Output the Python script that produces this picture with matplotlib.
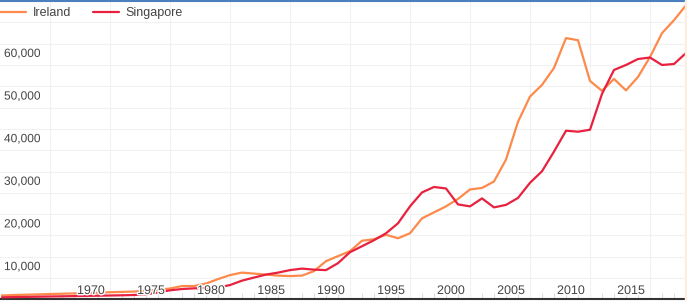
import matplotlib
matplotlib.use("Agg")
import matplotlib.pyplot as plt
import matplotlib.patheffects as pe
from matplotlib.patches import Rectangle
import numpy as np

plt.rcParams['font.family'] = ['Liberation Sans', 'DejaVu Sans']

# GDP per capita, 1961-2018
years = list(range(1961, 2019))
ireland = [5910, 6030, 6100, 6170, 6260, 6330, 6400, 6490, 6590, 6680,
           6750, 6840, 7010, 7240, 7550, 8130, 8130, 8710, 9760, 10700,
           11280, 11050, 10820, 10580, 10470, 10580, 11630, 13970, 15140, 16310,
           18760, 19110, 20160, 19340, 20510, 24010, 25420, 26820, 28570, 30790,
           31140, 32660, 37800, 46670, 52580, 55320, 59290, 66300, 65800, 56250,
           53920, 56720, 54030, 57190, 61860, 67460, 70500, 74000]
singapore = [5490, 5540, 5580, 5630, 5680, 5720, 5770, 5820, 5860, 5910,
             5960, 6030, 6210, 6610, 7130, 7430, 7590, 7660, 7780, 8360,
             9400, 10120, 10820, 11280, 11870, 12220, 11980, 11870, 13500, 16070,
             17470, 18880, 20510, 22850, 26820, 30090, 31370, 31020, 27280, 26820,
             28690, 26580, 27170, 28800, 32350, 35060, 39670, 44570, 44340, 44800,
             53210, 58820, 59990, 61390, 61740, 59990, 60220, 62790]

series_names = ["Ireland", "Singapore"]
series_colors = ["#fd8a4b", "#e8213f"]

x_labels = [1970, 1975, 1980, 1985, 1990, 1995, 2000, 2005, 2010, 2015]
y_labels = [10000, 20000, 30000, 40000, 50000, 60000]

W, H = 687, 301
fig = plt.figure(figsize=(W / 100, H / 100), dpi=100)
ax = fig.add_axes([0, 2 / H, 685 / W, 298 / H])

ax.set_xlim(1970 - 110 / 12, 1970 + 575 / 12)
ax.set_ylim(5090, 74940)

for vals, name, col in zip([ireland, singapore], series_names, series_colors):
    ax.plot(years, vals, color=col, lw=1.6, label=name, zorder=3,
            solid_capstyle='round', solid_joinstyle='round')

# grid
ax.set_xticks(np.arange(1965, 2020, 5))
ax.set_xticks(np.arange(1961, 2018, 1), minor=True)
ax.set_yticks(np.arange(10000, 75001, 5000))
ax.grid(True, which='major', color='#f1f1f1', lw=0.8)
ax.set_axisbelow(True)
ax.tick_params(axis='both', which='major', length=0, labelleft=False, labelbottom=False)
ax.tick_params(axis='x', which='minor', direction='in', length=4, color='#dddddd', width=0.8)
ax.tick_params(axis='y', which='minor', length=0)

for s in ['left', 'right']:
    ax.spines[s].set_visible(False)
ax.spines['bottom'].set_color('#333333')
ax.spines['bottom'].set_linewidth(1.5)
ax.spines['top'].set_color('#4a7fc0')
ax.spines['top'].set_linewidth(1.5)

halo = [pe.withStroke(linewidth=2, foreground='white')]
for yr in x_labels:
    ax.annotate(str(yr), xy=(yr, 0), xycoords=('data', 'axes fraction'),
                xytext=(-5, 8), textcoords='offset pixels', ha='right', va='center',
                fontsize=9, color='#444444', zorder=5, path_effects=halo)
for v in y_labels:
    ax.annotate(f"{v:,}", xy=(0, v), xycoords=('axes fraction', 'data'),
                xytext=(4, 11), textcoords='offset pixels', ha='left', va='center',
                fontsize=8.6, color='#444444', zorder=5, path_effects=halo)

ax.legend(loc='upper left', bbox_to_anchor=(0, 1 - 6 / 298), ncol=2, frameon=False,
          fontsize=9, handlelength=2.1, handletextpad=0.5, columnspacing=1.75,
          borderaxespad=0, borderpad=0, labelcolor='#444444')

fig.patches.append(Rectangle((685 / W, 0), 2 / W, 1, transform=fig.transFigure,
                             color='#fdeedd', zorder=0))

fig.savefig("out.png", dpi=100)
